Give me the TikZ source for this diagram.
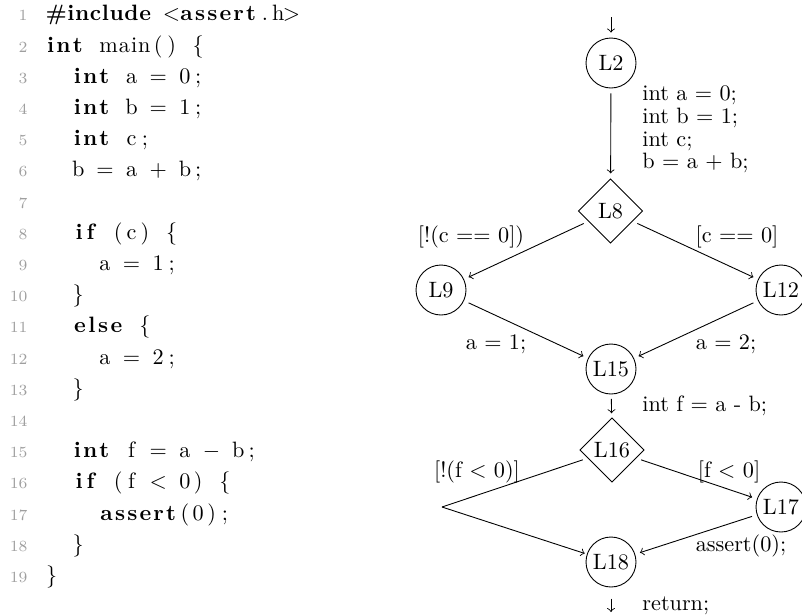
\documentclass[tikz,border=0pt]{standalone}
\usetikzlibrary{shapes.geometric}
\newdimen\cw \cw=6pt
\newcount\tkn
\makeatletter
\def\tkend{\tkend@quark}
\def\tk#1{\tkn=0 \tk@count#1\tkend\hbox to \tkn\cw{\hss\tk@spread#1\tkend}}
\def\tk@count#1{\ifx#1\tkend\else\advance\tkn by 1 \expandafter\tk@count\fi}
\def\tk@spread#1{\ifx#1\tkend\else#1\hss\expandafter\tk@spread\fi}
\makeatother
\def\bk#1{\hbox to #1\cw{}}
\def\kw#1{{\bfseries\tk{#1}}}
\def\mminus{\ensuremath{-}}
\def\mlt{\ensuremath{<}}
\tikzset{
  circ/.style={draw, circle, minimum size=22.5pt, inner sep=0.5pt},
  dia/.style={draw, diamond, minimum width=29pt, minimum height=29pt, inner sep=0pt},
  arr/.style={->},
  gapb/.style={shorten >=2.25pt, shorten <=2.25pt},
  lab/.style={inner sep=0pt, anchor=base west},
  clab/.style={inner sep=0pt, anchor=base},
  lnum/.style={inner sep=0pt, anchor=base east, font=\scriptsize, text=gray!75},
  code/.style={inner sep=0pt, anchor=base west}
}
\begin{document}
\begin{tikzpicture}[x=0.45pt, y=-0.45pt]
\useasboundingbox (0,0) rectangle (802,614);
% line numbers
\foreach \k in {1,...,19} {
  \node[lnum] (n\k) at (28, {20.8+(\k-1)*31.2}) {\k};
}
% code
\node[code] (c1) at (44.5, 20.8) {\kw{\#include}\bk1\tk{<}\kw{assert}\tk{.}\tk{h}\tk{>}};
\node[code] (c2) at (44.5, 52.0) {\kw{int}\bk1\tk{main}\tk{(}\tk{)}\bk1\tk{\{}};
\node[code] (c3) at (44.5, 83.2) {\bk2\kw{int}\bk1\tk{a}\bk1\tk{=}\bk1\tk{0}\tk{;}};
\node[code] (c4) at (44.5, 114.4) {\bk2\kw{int}\bk1\tk{b}\bk1\tk{=}\bk1\tk{1}\tk{;}};
\node[code] (c5) at (44.5, 145.6) {\bk2\kw{int}\bk1\tk{c}\tk{;}};
\node[code] (c6) at (44.5, 176.8) {\bk2\tk{b}\bk1\tk{=}\bk1\tk{a}\bk1\tk{+}\bk1\tk{b}\tk{;}};
\node[code] (c8) at (44.5, 239.2) {\bk2\kw{if}\bk1\tk{(}\tk{c}\tk{)}\bk1\tk{\{}};
\node[code] (c9) at (44.5, 270.4) {\bk4\tk{a}\bk1\tk{=}\bk1\tk{1}\tk{;}};
\node[code] (c10) at (44.5, 301.6) {\bk2\tk{\}}};
\node[code] (c11) at (44.5, 332.8) {\bk2\kw{else}\bk1\tk{\{}};
\node[code] (c12) at (44.5, 364.0) {\bk4\tk{a}\bk1\tk{=}\bk1\tk{2}\tk{;}};
\node[code] (c13) at (44.5, 395.2) {\bk2\tk{\}}};
\node[code] (c15) at (44.5, 457.6) {\bk2\kw{int}\bk1\tk{f}\bk1\tk{=}\bk1\tk{a}\bk1\tk{\mminus}\bk1\tk{b}\tk{;}};
\node[code] (c16) at (44.5, 488.8) {\bk2\kw{if}\bk1\tk{(}\tk{f}\bk1\tk{\mlt}\bk1\tk{0}\tk{)}\bk1\tk{\{}};
\node[code] (c17) at (44.5, 520.0) {\bk4\kw{assert}\tk{(}\tk{0}\tk{)}\tk{;}};
\node[code] (c18) at (44.5, 551.2) {\bk2\tk{\}}};
\node[code] (c19) at (44.5, 582.4) {\tk{\}}};
% graph nodes
\node[circ] (L2) at (611,63) {L2};
\node[dia] (L8) at (610.5,211) {L8};
\node[circ] (L9) at (441,290) {L9};
\node[circ] (L12) at (781,290) {L12};
\node[circ] (L15) at (611,369) {L15};
\node[dia] (L16) at (612,450) {L16};
\node[circ] (L17) at (781,507) {L17};
\node[circ] (L18) at (611,562) {L18};
\coordinate (entry) at (611,17);
\coordinate (exit) at (611,612);
\coordinate (join) at (442,507);
% edges
\draw[arr, shorten >=2.25pt] (entry) -- (L2);
\draw[arr, gapb] (L2) -- (L8);
\draw[arr, gapb] (L8) -- (L9);
\draw[arr, gapb] (L8) -- (L12);
\draw[arr, gapb] (L9) -- (L15);
\draw[arr, gapb] (L12) -- (L15);
\draw[arr, shorten <=2pt, shorten >=2pt] (L15) -- (L16);
\draw[arr, gapb] (L16) -- (L17);
\draw[shorten <=2.25pt] (L16) -- (join);
\draw[arr, shorten >=1pt] (join) -- (L18);
\draw[arr, gapb] (L17) -- (L18);
\draw[arr, shorten <=5pt] (L18) -- (exit);
% labels
\node[lab] (t1) at (642,100.7) {int a = 0;};
\node[lab] (t2) at (642,123.4) {int b = 1;};
\node[lab] (t3) at (642,146.1) {int c;};
\node[lab] (t4) at (642,168.8) {b = a + b;};
\node[clab] (g1) at (471,242.5) {[!(c == 0])};
\node[clab] (g2) at (737,242.5) {[c == 0]};
\node[clab] (s1) at (496,349) {a = 1;};
\node[clab] (s2) at (726,349) {a = 2;};
\node[lab] (s3) at (642,411.7) {int f = a - b;};
\node[clab] (g3) at (477,477) {[!(f < 0)]};
\node[clab] (g4) at (729,477) {[f < 0]};
\node[clab] (s4) at (741,551) {assert(0);};
\node[lab] (s5) at (642,610) {return;};
\end{tikzpicture}
\end{document}
